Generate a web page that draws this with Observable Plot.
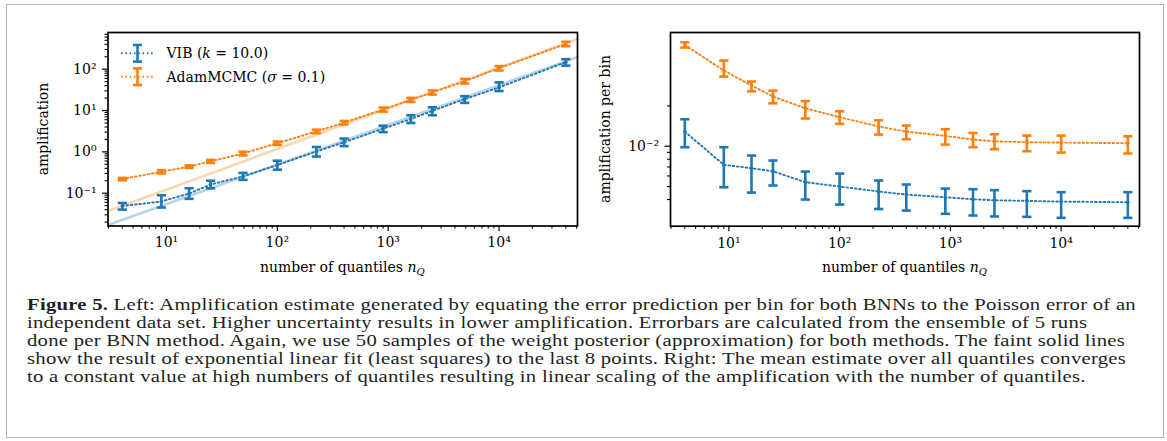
<!DOCTYPE html>
<html>
<head>
<meta charset="utf-8">
<script src="https://cdn.jsdelivr.net/npm/d3@7"></script>
<script src="https://cdn.jsdelivr.net/npm/@observablehq/plot@0.6"></script>
<style>
  html, body { margin: 0; padding: 0; background: #fff; }
  body { width: 1167px; height: 441px; position: relative; overflow: hidden; }
  #border { position: absolute; left: 6px; top: 4px; width: 1158px; height: 434px; border: 1.5px solid #b4b4b4; box-sizing: border-box; }
  #left { position: absolute; left: 0; top: 0; }
  #right { position: absolute; left: 580px; top: 0; }
  #caption { position: absolute; left: 27px; top: 296px; font-family: "Liberation Serif", serif; font-size: 16.2px; line-height: 18px; color: #231f20; transform-origin: 0 0; letter-spacing: 0.2px; }
  #caption div { white-space: nowrap; height: 18px; }
</style>
</head>
<body>
<div id="border"></div>
<div id="left"></div>
<div id="right"></div>
<div id="caption"></div>
<script>
// ---------------- data ----------------
const nQ = [4, 9, 16, 25, 49, 100, 225, 400, 900, 1600, 2500, 4900, 10000, 40000];

// left: amplification
const vibAmp   = [0.049, 0.063, 0.098, 0.162, 0.254, 0.48, 1.02, 1.71, 3.63, 6.24, 9.8, 18.9, 36.3, 148];
const vibAmpLo = [0.040, 0.045, 0.073, 0.131, 0.21, 0.37, 0.77, 1.38, 3.0, 5.0, 7.7, 15.3, 29.6, 122];
const vibAmpHi = [0.058, 0.089, 0.132, 0.200, 0.31, 0.61, 1.31, 2.1, 4.3, 7.7, 12.0, 22.3, 48, 175];

const adamAmp   = [0.219, 0.33, 0.44, 0.59, 0.91, 1.62, 3.13, 5.1, 10.6, 18.2, 27.5, 51, 106, 407];
const adamAmpLo = [0.205, 0.30, 0.41, 0.54, 0.82, 1.48, 2.85, 4.6, 9.4, 16.2, 24.2, 45, 93, 360];
const adamAmpHi = [0.235, 0.36, 0.47, 0.64, 1.01, 1.78, 3.45, 5.6, 11.8, 20.3, 30.7, 58, 119, 460];

// faint fit lines (endpoints read at the axis limits)
const fitN    = [2.97, 51000];
const vibFit  = [0.0169, 196];
const adamFit = [0.0371, 539];

// right: amplification per bin
const vibBin   = [0.01286, 0.00726, 0.00685, 0.0065, 0.00539, 0.0050, 0.00459, 0.00436, 0.00416, 0.00402, 0.00395, 0.00391, 0.00386, 0.00382];
const vibBinLo = [0.00983, 0.00494, 0.00451, 0.00509, 0.0040, 0.00367, 0.0034, 0.00331, 0.00313, 0.00304, 0.00299, 0.00297, 0.00292, 0.00292];
const vibBinHi = [0.0159, 0.00983, 0.00852, 0.00782, 0.00647, 0.00625, 0.00555, 0.00518, 0.00483, 0.00478, 0.0047, 0.00462, 0.00454, 0.00454];

const adamBin   = [0.0570, 0.0367, 0.0284, 0.0235, 0.0192, 0.01646, 0.01403, 0.01286, 0.01194, 0.01122, 0.01089, 0.01071, 0.01065, 0.01053];
const adamBinLo = [0.0545, 0.0331, 0.0257, 0.0209, 0.0161, 0.0147, 0.01222, 0.01128, 0.01029, 0.00983, 0.0095, 0.00918, 0.00897, 0.00882];
const adamBinHi = [0.0597, 0.0436, 0.0304, 0.0260, 0.0217, 0.01825, 0.01563, 0.01427, 0.0134, 0.01257, 0.01229, 0.0120, 0.0120, 0.01187];

// ticks
const xMajor = [10, 100, 1000, 10000];
const xMajorLabels = ["10¹", "10²", "10³", "10⁴"];
const yLeftMajor = [0.1, 1, 10, 100];
const yLeftMajorLabels = ["10⁻¹", "10⁰", "10¹", "10²"];
const yRightMajor = [0.01];
const yRightMajorLabels = ["10⁻²"];
const yRightMinor = [0.004, 0.005, 0.006, 0.007, 0.008, 0.009, 0.02];

const series = ["VIB", "AdamMCMC"];
const colors = ["#1f77b4", "#ff7f0e"];

const xDomain = [2.97, 51000];
const yLeftDomain = [0.01607, 773];
const yRightDomain = [0.00253, 0.0706];

// -------------- helpers --------------
function minorTicks([a, b]) {
  const t = [];
  for (let e = Math.floor(Math.log10(a)); e <= Math.ceil(Math.log10(b)); e++)
    for (let m = 2; m <= 9; m++) { const v = +(m * Math.pow(10, e)).toPrecision(6); if (v >= a && v <= b) t.push(v); }
  return t;
}
const capSymbol = { draw(ctx, size) { const w = Math.sqrt(size / Math.PI); ctx.moveTo(-w, 0); ctx.lineTo(w, 0); } };
const rows = (vals, lo, hi) => nQ.map((n, i) => ({ n, v: vals[i], lo: lo[i], hi: hi[i] }));

const FONT = "DejaVu Serif";
const DOTS = "1.6,2.7";

function seriesMarks(data, color) {
  return [
    Plot.line(data, { x: "n", y: "v", stroke: color, strokeWidth: 1.9, strokeDasharray: DOTS }),
    Plot.ruleX(data, { x: "n", y1: "lo", y2: "hi", stroke: color, strokeWidth: 2.6 }),
    Plot.dot(data, { x: "n", y: "lo", symbol: capSymbol, r: 4.6, stroke: color, strokeWidth: 2.6, fill: "none" }),
    Plot.dot(data, { x: "n", y: "hi", symbol: capSymbol, r: 4.6, stroke: color, strokeWidth: 2.6, fill: "none" }),
    Plot.dot(data, { x: "n", y: "v", r: 1.8, fill: color, stroke: "none" })
  ];
}

function axes(yMajor, yMajorLabels, yMinor) {
  return [
    Plot.axisX(minorTicks(xDomain), { tickSize: 3, tickFormat: () => "", strokeWidth: 1.1, label: null }),
    Plot.axisX(xMajor, { tickSize: 5.5, tickPadding: 6, tickFormat: d => xMajorLabels[xMajor.indexOf(d)], strokeWidth: 1.2, label: null, fontSize: 14, fill: "black" }),
    Plot.axisY(yMinor, { tickSize: 3, tickFormat: () => "", strokeWidth: 1.1, label: null }),
    Plot.axisY(yMajor, { tickSize: 5.5, tickPadding: 6, tickFormat: d => yMajorLabels[yMajor.indexOf(d)], strokeWidth: 1.2, label: null, fontSize: 14, fill: "black" })
  ];
}

function addXLabel(svg, cx, y) {
  const t = d3.select(svg).append("text").attr("x", cx).attr("y", y).attr("text-anchor", "middle")
    .attr("font-family", FONT).attr("font-size", 14).attr("fill", "black");
  t.append("tspan").text("number of quantiles ");
  t.append("tspan").attr("font-style", "italic").text("n");
  t.append("tspan").attr("font-style", "italic").attr("font-size", 10).attr("dy", 3).text("Q");
}
function addYLabel(svg, x, cy, label) {
  d3.select(svg).append("text").attr("transform", `translate(${x},${cy}) rotate(-90)`)
    .attr("text-anchor", "middle").attr("dominant-baseline", "central")
    .attr("font-family", FONT).attr("font-size", 14).attr("fill", "black").text(label);
}

// -------------- left chart --------------
const W1 = 590, H = 290;
const leftPlot = Plot.plot({
  width: W1, height: H,
  marginLeft: 107.5, marginRight: W1 - 577, marginTop: 32, marginBottom: H - 225.5,
  x: { type: "log", domain: xDomain },
  y: { type: "log", domain: yLeftDomain },
  style: { fontFamily: FONT, fontSize: "14px", background: "none", color: "black", overflow: "visible" },
  marks: [
    Plot.line(fitN.map((n, i) => ({ n, v: vibFit[i] })), { x: "n", y: "v", stroke: colors[0], strokeOpacity: 0.32, strokeWidth: 2.6 }),
    Plot.line(fitN.map((n, i) => ({ n, v: adamFit[i] })), { x: "n", y: "v", stroke: colors[1], strokeOpacity: 0.32, strokeWidth: 2.6 }),
    ...seriesMarks(rows(vibAmp, vibAmpLo, vibAmpHi), colors[0]),
    ...seriesMarks(rows(adamAmp, adamAmpLo, adamAmpHi), colors[1]),
    ...axes(yLeftMajor, yLeftMajorLabels, minorTicks(yLeftDomain)),
    Plot.frame({ stroke: "black", strokeWidth: 1.7 })
  ]
});
document.getElementById("left").appendChild(leftPlot);
addYLabel(leftPlot, 42.5, 129, "amplification");
addXLabel(leftPlot, 342.3, 272);

// legend
{
  const g = d3.select(leftPlot).append("g").attr("aria-label", "legend");
  const legendRows = [
    { c: colors[0], y: 53.3, parts: [[series[0] + " (", null], ["k", "italic"], [" = 10.0)", null]] },
    { c: colors[1], y: 76.7, parts: [[series[1] + " (", null], ["σ", "italic"], [" = 0.1)", null]] }
  ];
  legendRows.forEach((r) => {
    g.append("line").attr("x1", 121).attr("x2", 153).attr("y1", r.y).attr("y2", r.y)
      .attr("stroke", r.c).attr("stroke-width", 1.9).attr("stroke-dasharray", DOTS);
    g.append("line").attr("x1", 137.5).attr("x2", 137.5).attr("y1", r.y - 8.3).attr("y2", r.y + 8.3)
      .attr("stroke", r.c).attr("stroke-width", 2.6);
    [-8.3, 8.3].forEach(d => g.append("line").attr("x1", 133).attr("x2", 142).attr("y1", r.y + d).attr("y2", r.y + d)
      .attr("stroke", r.c).attr("stroke-width", 2.6));
    const t = g.append("text").attr("x", 166.5).attr("y", r.y).attr("dominant-baseline", "central")
      .attr("text-anchor", "start")
      .attr("font-family", FONT).attr("font-size", 14).attr("fill", "black").attr("xml:space", "preserve");
    r.parts.forEach(([s, st]) => { const ts = t.append("tspan").text(s); if (st) ts.attr("font-style", st); });
  });
}

// -------------- right chart --------------
const W2 = 587;
const rightPlot = Plot.plot({
  width: W2, height: H,
  marginLeft: 90, marginRight: W2 - (1139 - 580), marginTop: 32, marginBottom: H - 225.7,
  x: { type: "log", domain: xDomain },
  y: { type: "log", domain: yRightDomain },
  style: { fontFamily: FONT, fontSize: "14px", background: "none", color: "black", overflow: "visible" },
  marks: [
    ...seriesMarks(rows(vibBin, vibBinLo, vibBinHi), colors[0]),
    ...seriesMarks(rows(adamBin, adamBinLo, adamBinHi), colors[1]),
    ...axes(yRightMajor, yRightMajorLabels, yRightMinor),
    Plot.frame({ stroke: "black", strokeWidth: 1.7 })
  ]
});
document.getElementById("right").appendChild(rightPlot);
addYLabel(rightPlot, 24.5, 129, "amplification per bin");
addXLabel(rightPlot, (90 + 559) / 2, 272);

// -------------- caption --------------
const captionLines = [
  "Left: Amplification estimate generated by equating the error prediction per bin for both BNNs to the Poisson error of an",
  "independent data set. Higher uncertainty results in lower amplification. Errorbars are calculated from the ensemble of 5 runs",
  "done per BNN method. Again, we use 50 samples of the weight posterior (approximation) for both methods. The faint solid lines",
  "show the result of exponential linear fit (least squares) to the last 8 points. Right: The mean estimate over all quantiles converges",
  "to a constant value at high numbers of quantiles resulting in linear scaling of the amplification with the number of quantiles."
];
const cap = document.getElementById("caption");
captionLines.forEach((line, i) => {
  const d = document.createElement("div");
  const span = document.createElement("span");
  if (i === 0) {
    const b = document.createElement("b"); b.textContent = "Figure 5."; span.appendChild(b);
    span.appendChild(document.createTextNode(" " + line));
  } else span.textContent = line;
  d.appendChild(span);
  cap.appendChild(d);
});
// stretch horizontally so that the first line spans the width it has in the figure
{
  const span = cap.firstChild.firstChild;
  const target = 1136 - 27;
  const k = target / span.getBoundingClientRect().width;
  cap.style.transform = `scaleX(${k.toFixed(4)})`;
}
</script>
</body>
</html>
